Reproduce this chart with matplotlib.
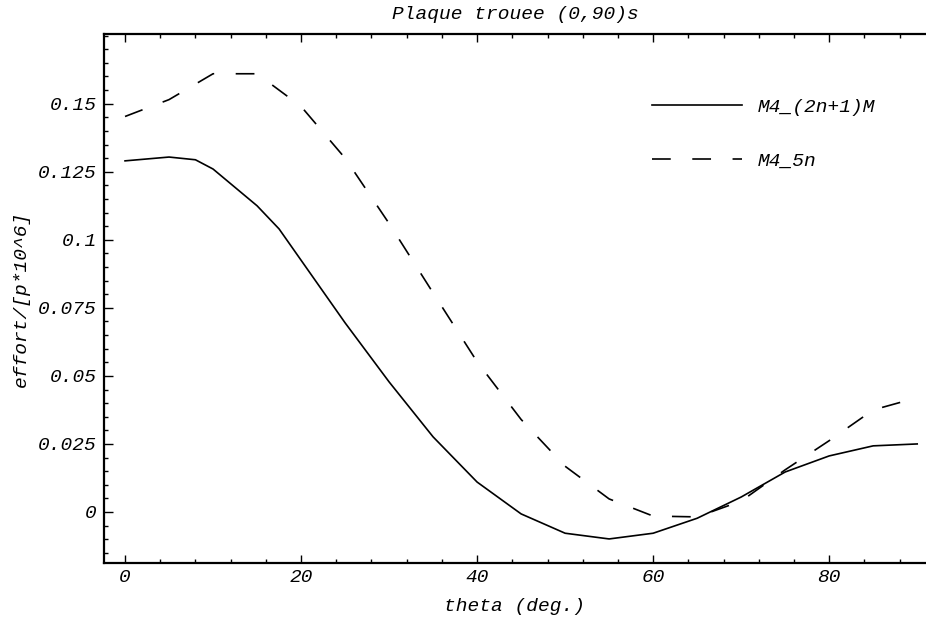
import numpy as np
import matplotlib.pyplot as plt
from matplotlib.ticker import MultipleLocator, FixedLocator

plt.rcParams['font.family'] = ['Liberation Mono', 'DejaVu Sans Mono']
plt.rcParams['font.style'] = 'italic'
plt.rcParams['lines.scale_dashes'] = False

# values
theta_m = [0, 5, 8, 10, 15, 17.5, 20, 25, 30, 35, 40, 45, 50, 55, 60, 65, 70, 75, 80, 85, 90]
effort_m = [0.1290, 0.1304, 0.1294, 0.1260, 0.1125, 0.1040, 0.0925, 0.0695, 0.0478, 0.0276,
            0.0110, -0.0007, -0.0078, -0.0099, -0.0078, -0.0023, 0.0055, 0.0147, 0.0206,
            0.0243, 0.0250]

theta_5n = [0, 5, 10, 15, 20, 25, 30, 35, 40, 45, 50, 55, 60, 65, 70, 75, 80, 85, 90]
effort_5n = [0.1453, 0.1515, 0.1610, 0.1610, 0.1490, 0.1300, 0.1060, 0.0805, 0.0552, 0.0340,
             0.0168, 0.0048, -0.0015, -0.0018, 0.0040, 0.0155, 0.0262, 0.0375, 0.0420]

labels = ['M4_(2n+1)M', 'M4_5n']

fig = plt.figure(figsize=(9.26, 6.23), dpi=100)
ax = fig.add_axes([0.1123, 0.0963, 0.8877, 0.8491])

ax.plot(theta_m, effort_m, color='black', lw=1.2, label=labels[0])
ax.plot(theta_5n, effort_5n, color='black', lw=1.2, dashes=(13.5, 15.5), label=labels[1])

ax.set_xlim(-2.39, 91.0)
ax.set_ylim(-0.01874, 0.1756)

ax.xaxis.set_major_locator(FixedLocator([0, 20, 40, 60, 80]))
ax.xaxis.set_minor_locator(MultipleLocator(4))
ax.yaxis.set_major_locator(FixedLocator([0, 0.025, 0.05, 0.075, 0.1, 0.125, 0.15]))
ax.yaxis.set_minor_locator(MultipleLocator(0.005))
ax.set_yticklabels(['0', '0.025', '0.05', '0.075', '0.1', '0.125', '0.15'])
ax.set_xticklabels(['0', '20', '40', '60', '80'])

ax.tick_params(which='both', direction='in', top=True, right=False, labelsize=14, width=1.0)
ax.tick_params(axis='y', which='major', length=6.5, pad=5)
ax.tick_params(axis='y', which='minor', length=3)
ax.tick_params(axis='x', which='major', length=5.5, pad=4)
ax.tick_params(axis='x', which='minor', length=3)

ax.spines['right'].set_visible(False)
for s in ['left', 'bottom', 'top']:
    ax.spines[s].set_linewidth(1.6)

ax.set_xlabel('theta (deg.)', fontsize=14, labelpad=9)
ax.set_ylabel('effort/[p*10^6]', fontsize=14, labelpad=6)
ax.set_title('Plaque trouee (0,90)s', fontsize=14, pad=11)

ax.legend(loc='upper left', bbox_to_anchor=(0.667, 0.879), frameon=False, fontsize=14,
          handlelength=4.6, handletextpad=0.8, labelspacing=1.86, borderpad=0, borderaxespad=0)

plt.savefig('out.png', dpi=100)
